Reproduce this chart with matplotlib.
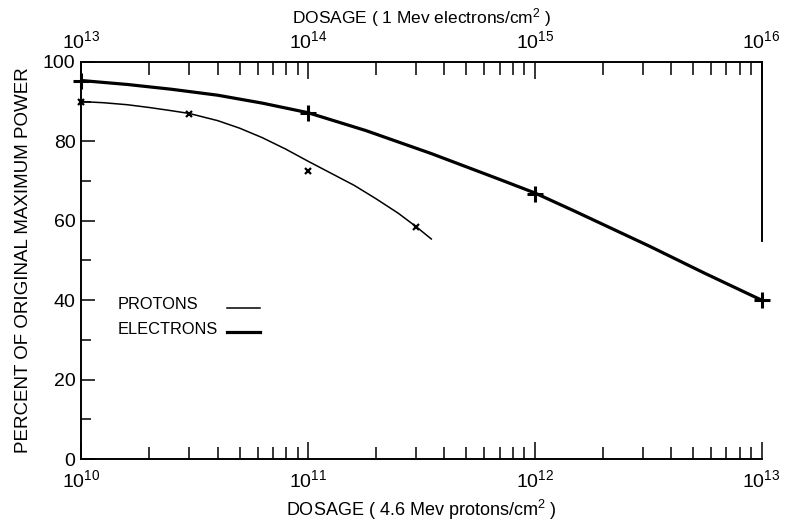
import matplotlib
matplotlib.use("Agg")
import matplotlib.pyplot as plt
from matplotlib.lines import Line2D
from matplotlib.ticker import LogLocator, MultipleLocator

plt.rcParams["font.family"] = ["Liberation Sans", "DejaVu Sans"]
plt.rcParams["mathtext.fontset"] = "custom"
plt.rcParams["mathtext.rm"] = "Liberation Sans"
plt.rcParams["mathtext.it"] = "Liberation Sans"
plt.rcParams["mathtext.default"] = "regular"

# protons (bottom axis, 4.6 Mev protons/cm2)
proton_dose = [1e10, 3e10, 1e11, 3e11]
proton_power = [90.0, 86.8, 72.5, 58.5]
# faired curve through the proton points
proton_curve_dose = [1e10, 1.26e10, 1.6e10, 2e10, 2.5e10, 3e10, 4e10, 5e10, 6.3e10,
                     8e10, 1e11, 1.26e11, 1.6e11, 2e11, 2.5e11, 3e11, 3.5e11]
proton_curve_power = [90.0, 89.7, 89.2, 88.5, 87.7, 87.0, 85.2, 83.3, 80.9,
                      78.0, 75.0, 72.0, 68.9, 65.5, 61.9, 58.5, 55.4]

# electrons (top axis, 1 Mev electrons/cm2)
electron_dose = [1e13, 1e14, 1e15, 1e16]
electron_power = [95.3, 87.0, 66.8, 40.0]
electron_curve_dose = [1e13, 1.6e13, 2.5e13, 4e13, 6.3e13, 1e14, 1.8e14, 3.5e14,
                       7e14, 1e15, 1.5e15, 3.2e15, 5.6e15, 1e16]
electron_curve_power = [95.3, 94.3, 93.1, 91.6, 89.6, 87.2, 82.7, 76.9,
                        70.4, 67.0, 62.4, 53.6, 46.8, 40.0]

fig = plt.figure(figsize=(7.96, 5.24), dpi=100)
ax = fig.add_axes([0.1018, 0.124, 0.855, 0.758])

ax.plot(proton_curve_dose, proton_curve_power, color="black", lw=1.1,
        solid_joinstyle="round")
ax.plot(proton_dose, proton_power, ls="none", marker="x", ms=5, mew=1.6,
        color="black", clip_on=False)
ax.set_xscale("log")
ax.set_xlim(1e10, 1e13)
ax.set_ylim(0, 100)

ax2 = ax.twiny()
ax2.set_xscale("log")
ax2.set_xlim(1e13, 1e16)
ax2.plot(electron_curve_dose, electron_curve_power, color="black", lw=2.3,
         solid_joinstyle="round")
ax2.plot(electron_dose, electron_power, ls="none", marker="+", ms=11, mew=2.2,
         color="black", clip_on=False)

for a in (ax, ax2):
    a.xaxis.set_major_locator(LogLocator(base=10, numticks=10))
    a.xaxis.set_minor_locator(LogLocator(base=10, subs=range(2, 10), numticks=20))
    for s in a.spines.values():
        s.set_linewidth(1.2)
    a.spines["right"].set_bounds(55, 100)

ax.yaxis.set_major_locator(MultipleLocator(20))
ax.yaxis.set_minor_locator(MultipleLocator(10))
ax.tick_params(axis="x", which="both", direction="in", width=1.1, labelsize=14, pad=7)
ax.tick_params(axis="x", which="major", length=12)
ax.tick_params(axis="x", which="minor", length=9)
ax.tick_params(axis="y", which="both", direction="in", width=1.1, labelsize=14, pad=4)
ax.tick_params(axis="y", which="major", length=10)
ax.tick_params(axis="y", which="minor", length=7)
ax2.tick_params(axis="x", which="both", direction="in", width=1.1, labelsize=14, pad=7)
ax2.tick_params(axis="x", which="major", length=12)
ax2.tick_params(axis="x", which="minor", length=9)

ax.set_xlabel("DOSAGE ( 4.6 Mev protons/cm$^2$ )", fontsize=13, labelpad=5)
ax2.set_xlabel("DOSAGE ( 1 Mev electrons/cm$^2$ )", fontsize=12.5, labelpad=5)
ax.set_ylabel("PERCENT OF ORIGINAL MAXIMUM POWER", fontsize=13.5, labelpad=8)

# legend: names on the left, line samples on the right
legend_names = ["PROTONS", "ELECTRONS"]
legend_widths = [1.1, 2.3]
legend_y = [0.388, 0.327]
for name, lw, y in zip(legend_names, legend_widths, legend_y):
    ax.text(0.054, y, name, transform=ax.transAxes, fontsize=11.8, va="center", ha="left")
    ax.add_line(Line2D([0.214, 0.263], [y - 0.008, y - 0.008], transform=ax.transAxes,
                       color="black", lw=lw))

fig.savefig("out.png", dpi=100)
